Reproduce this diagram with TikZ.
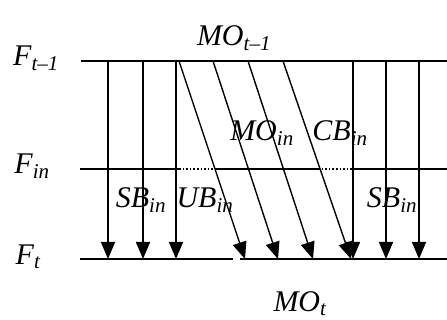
\documentclass[tikz,border=0pt]{standalone}
\usepackage{amsmath}
\usepackage{fontspec}
\setmainfont{Liberation Serif}
\usetikzlibrary{arrows.meta}

% italic symbol with italic subscript
\newcommand{\lab}[2]{\textit{#1}$_{\textit{#2}}$}

\begin{document}
\begin{tikzpicture}[x=1pt,y=-1pt,>={Triangle[length=17pt,width=14pt]},
  level/.style={line width=1.6pt},
  gapline/.style={line width=1.6pt,dotted},
  flow/.style={->,line width=1.4pt},
  lbl/.style={font=\fontsize{30}{32}\selectfont,inner sep=0pt}]
  \useasboundingbox (0,0) rectangle (447,320);
  % the three levels
  \coordinate (top-l) at (81,61);   \coordinate (top-r) at (447,61);
  \coordinate (mid-l) at (80,169);  \coordinate (mid-r) at (447,169);
  \coordinate (bot-l) at (80,259);  \coordinate (bot-r) at (447,259);
  \draw[level] (top-l) -- (top-r);
  \draw[level] (mid-l) -- (179,169);
  \draw[gapline] (179,169) -- (215,169);
  \draw[level] (215,169) -- (318,169);
  \draw[gapline] (318,169) -- (353,169);
  \draw[level] (353,169) -- (mid-r);
  \draw[level] (bot-l) -- (233,259);
  \draw[level] (240,259) -- (bot-r);
  % flows from F_{t-1} to F_t
  \foreach \xa/\xb [count=\i] in {108/108,143/143,176/176,179/245,213/278,248/313,283/351,353/353,386/386,419/419}{
    \coordinate (s\i) at (\xa,61);
    \coordinate (e\i) at (\xb,259);
    \draw[flow] (s\i) -- (e\i);
  }
  % labels
  \node[lbl] (ft1) at (36,58) {\lab{F}{t–1}};
  \node[lbl] (fin) at (32,166) {\lab{F}{in}};
  \node[lbl] (ft) at (28,257) {\lab{F}{t}};
  \node[lbl] (mot1) at (234,38) {\lab{MO}{t–1}};
  \node[lbl] (moin) at (262,133) {\lab{MO}{in}};
  \node[lbl] (cbin) at (340,133) {\lab{CB}{in}};
  \node[lbl] (sbl) at (141,200) {\lab{SB}{in}};
  \node[lbl] (ubin) at (205,200) {\lab{UB}{in}};
  \node[lbl] (sbr) at (392,200) {\lab{SB}{in}};
  \node[lbl] (mot) at (300,304) {\lab{MO}{t}};
\end{tikzpicture}
\end{document}
